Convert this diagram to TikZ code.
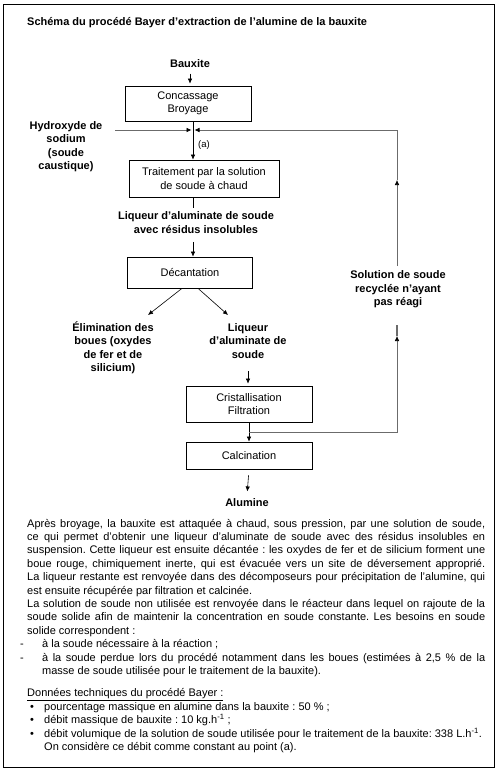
\documentclass[tikz,border=0pt]{standalone}
\usepackage{fontspec}
\setmainfont{Liberation Sans}
\usetikzlibrary{arrows.meta}
\def\txtfont{\fontsize{11}{13.5}\selectfont}
\def\lblfont{\fontsize{11}{13.5}\selectfont\bfseries}

\tikzset{
	box/.style={draw, line width=0.7pt, align=center, inner sep=2pt},
	lbl/.style={font=\lblfont, align=center},
	arr/.style={-{Latex[length=5pt,width=4.5pt,color=black]}, line width=0.6pt},
	recy/.style={draw=black!58, line width=1.5pt},
}

\begin{document}
\begin{tikzpicture}[x=1pt, y=-1pt, font=\txtfont]
	%%%%% START %%%%%
	\useasboundingbox (0,0) rectangle (500,770);
	\draw[line width=0.8pt] (3,4) rectangle (494,767);
	
	\node[anchor=base west, inner sep=0, font=\lblfont] (titre) at (27,26) {Schéma du procédé Bayer d’extraction de l’alumine de la bauxite};
	
	% process chain
	\node[lbl] (bauxite) at (190,64) {Bauxite};
	\node[box, minimum width=126pt, minimum height=35pt] (concassage) at (188,103.5) {Concassage\\Broyage};
	\coordinate (a) at (193,130);
	\node[box, minimum width=150pt, minimum height=37pt] (traitement) at (204,178.5) {Traitement par la solution\\de soude à chaud};
	\node[lbl] (liqueur) at (196,222.5) {Liqueur d’aluminate de soude\\avec résidus insolubles};
	\node[box, minimum width=125pt, minimum height=31pt] (decantation) at (190,272.5) {Décantation};
	\node[lbl] (boues) at (113,348) {Élimination des\\boues (oxydes\\de fer et de\\silicium)};
	\node[lbl] (aluminate) at (248,341) {Liqueur\\d’aluminate de\\soude};
	\node[box, minimum width=126pt, minimum height=36pt] (cristal) at (249,404) {Cristallisation\\Filtration};
	\node[box, minimum width=126pt, minimum height=27pt] (calcination) at (249,455.5) {Calcination};
	\node[lbl] (alumine) at (247,503) {Alumine};
	
	\node[lbl] (hydroxyde) at (66,146.5) {Hydroxyde de\\sodium\\(soude\\caustique)};
	\node[lbl] (solution) at (398,289.5) {Solution de soude\\recyclée n’ayant\\pas réagi};
	\node[font=\fontsize{9.5}{11}\selectfont] (pointa) at (204,145) {(a)};
	
	\draw[arr, shorten <=2pt, shorten >=2pt] (bauxite.south) -- (bauxite.south |- concassage.north);
	\draw[arr] (concassage.south -| a) -- (traitement.north -| a);
	\draw[line width=0.6pt] (traitement.south -| a) -- (liqueur.north -| a);
	\draw[arr, shorten <=5pt] (liqueur.south -| a) -- (decantation.north -| a);
	
	\coordinate (e1) at (148,315);
	\coordinate (e2) at (228,315);
	\draw[arr] ([xshift=-8pt]decantation.south) -- (e1);
	\draw[arr] ([xshift=8pt]decantation.south) -- (e2);
	
	\draw[arr, shorten <=9pt, shorten >=2pt] (aluminate.south) -- (aluminate.south |- cristal.north);
	\draw[arr] (cristal.south) -- (calcination.north);
	\draw[arr, shorten <=6pt, shorten >=4pt] (calcination.south) -- (alumine.north);
	
	% soda lines
	\coordinate (h) at (115,130);
	\draw[recy, arr, shorten >=1.5pt] (h) -- (a);
	
	\coordinate (r0) at (249,432);
	\coordinate (r1) at (397,432);
	\coordinate (t1) at (397,336);
	\coordinate (s1) at (397,325);
	\coordinate (s2) at (397,266);
	\coordinate (t2) at (397,180);
	\coordinate (r2) at (397,130);
	\draw[recy, arr] (r0) -- (r1) -- (t1);
	\draw[recy] (t1) -- (s1);
	\draw[recy, arr] (s2) -- (t2);
	\draw[recy, arr, shorten >=1.5pt] (t2) -- (r2) -- (a);
	
	% text below
	\node[anchor=base west, inner sep=0, text width=458pt, align=justify, font=\fontsize{11}{13.4}\selectfont] (texte) at (27,527) {%
		\frenchspacing
		Après broyage, la bauxite est attaquée à chaud, sous pression, par une solution de soude,\linebreak
		ce qui permet d’obtenir une liqueur d’aluminate de soude avec des résidus insolubles en\linebreak
		suspension. Cette liqueur est ensuite décantée : les oxydes de fer et de silicium forment une\linebreak
		boue rouge, chimiquement inerte, qui est évacuée vers un site de déversement approprié.\linebreak
		La liqueur restante est renvoyée dans des décomposeurs pour précipitation de l’alumine, qui\linebreak
		est ensuite récupérée par filtration et calcinée.\par
		La solution de soude non utilisée est renvoyée dans le réacteur dans lequel on rajoute de la\linebreak
		soude solide afin de maintenir la concentration en soude constante. Les besoins en soude\linebreak
		solide correspondent :\par
		{\leftskip=15pt
		\noindent\llap{\makebox[22pt][l]{-}}à la soude nécessaire à la réaction ;\par
		\noindent\llap{\makebox[22pt][l]{-}}à la soude perdue lors du procédé notamment dans les boues (estimées à 2,5 \% de la\linebreak
		masse de soude utilisée pour le traitement de la bauxite).\par}
		\vspace{9pt}
		\noindent\underline{Données techniques du procédé Bayer :}\par
		{\leftskip=17pt
		\noindent\llap{\makebox[14pt][l]{\textbullet}}pourcentage massique en alumine dans la bauxite : 50 \% ;\par
		\noindent\llap{\makebox[14pt][l]{\textbullet}}débit massique de bauxite : 10 kg.h\textsuperscript{-1} ;\par
		\noindent\llap{\makebox[14pt][l]{\textbullet}}débit volumique de la solution de soude utilisée pour le traitement de la bauxite: 338 L.h\textsuperscript{-1}.\\
		On considère ce débit comme constant au point (a).\par}
	};
	
	%%%%% END %%%%%
\end{tikzpicture}
\end{document}
